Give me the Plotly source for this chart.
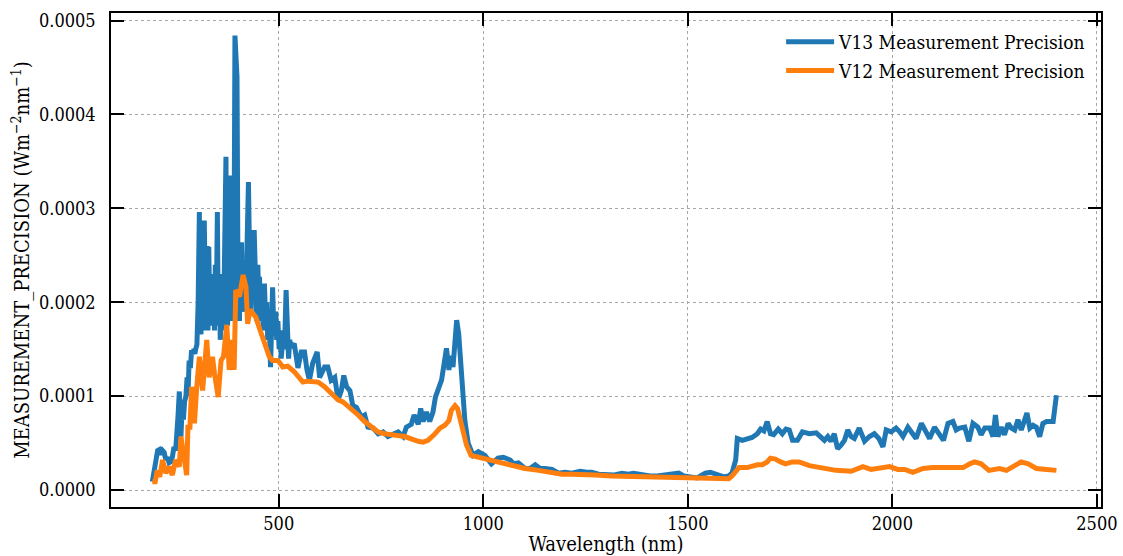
import plotly.graph_objects as go

# V13 Measurement Precision (blue)
v13_wl = [191, 195, 200, 204, 208, 212, 216, 220, 224, 228, 232, 236, 240, 244, 248, 251, 254, 257,
          259, 261, 264, 267, 270, 273, 276, 278, 281, 284, 287, 290, 293, 295,
          297, 300, 303, 306, 308, 310, 312, 315, 318, 320, 322, 325, 327, 329, 331, 333, 335, 337,
          339, 341, 343, 345, 347, 350, 352, 355, 357, 360, 363, 365, 368, 371, 373, 375, 378, 380,
          382, 384, 386, 388, 390, 393, 396, 398, 400, 402, 404, 406, 409, 411, 414, 416, 419, 422,
          426, 429, 432, 435, 438, 440, 443, 446, 449, 451, 453, 456, 459, 462, 465, 468, 471, 473,
          476, 480, 483, 485, 488, 490, 493, 495, 498, 501, 504, 506, 510, 514, 518, 521, 524, 527,
          530, 538, 547, 555, 563, 569, 575, 583,
          594, 600, 612, 620, 628, 637, 645, 653, 659, 666, 674, 681, 690, 702, 710, 718, 731, 743,
          755, 767, 780, 792, 804, 812, 824, 831, 841, 847, 853, 861, 869, 877, 883, 890, 898, 903,
          910, 916, 920, 926, 935, 940, 947, 955, 963, 975, 988, 1004, 1020, 1036, 1049, 1066, 1074,
          1086, 1102, 1114, 1127, 1139, 1151, 1168, 1184, 1200, 1216, 1237, 1253, 1265, 1282, 1298,
          1318, 1339, 1355, 1367, 1388, 1408, 1425, 1445, 1461, 1478, 1490, 1510, 1523, 1531, 1543,
          1555, 1567, 1576, 1588, 1600, 1608, 1617, 1621, 1633, 1645, 1657, 1670, 1678, 1686, 1694,
          1702, 1710, 1721, 1731, 1740, 1748, 1756, 1768, 1780, 1797, 1814, 1826, 1834, 1842, 1850,
          1858, 1866, 1875, 1883, 1891, 1899, 1907, 1919, 1932, 1944, 1956, 1967, 1977, 1985, 1997,
          2009, 2018, 2026, 2038, 2046, 2058, 2071, 2083, 2091, 2103, 2115, 2125, 2136, 2148, 2156,
          2164, 2177, 2187, 2197, 2209, 2217, 2226, 2238, 2246, 2252, 2258, 2266, 2274, 2283, 2291,
          2299, 2307, 2315, 2323, 2329, 2336, 2344, 2352, 2360, 2368, 2377, 2393, 2401]
v13_val = [0.09e-4, 0.20e-4, 0.30e-4, 0.42e-4, 0.43e-4, 0.38e-4, 0.42e-4, 0.40e-4, 0.32e-4, 0.35e-4,
           0.29e-4, 0.30e-4, 0.35e-4, 0.46e-4, 0.42e-4, 0.55e-4, 0.80e-4, 1.05e-4, 0.70e-4, 0.57e-4,
           0.90e-4, 0.75e-4, 0.95e-4, 0.99e-4, 1.20e-4, 1.00e-4, 1.38e-4, 1.30e-4, 1.49e-4, 1.45e-4,
           1.50e-4, 1.45e-4,
           1.50e-4, 1.55e-4, 2.00e-4, 2.96e-4, 1.70e-4, 1.66e-4, 2.30e-4, 1.80e-4, 2.87e-4, 2.20e-4,
           1.70e-4, 2.60e-4, 1.70e-4, 2.59e-4, 2.00e-4, 2.27e-4, 1.75e-4, 2.10e-4, 1.80e-4, 2.30e-4,
           1.70e-4, 2.40e-4, 1.75e-4, 2.96e-4, 1.90e-4, 2.30e-4, 1.60e-4, 2.00e-4, 2.20e-4, 1.70e-4,
           2.50e-4, 3.55e-4, 2.20e-4, 1.75e-4, 2.60e-4, 2.00e-4, 3.35e-4, 2.40e-4, 1.80e-4, 2.30e-4,
           1.80e-4, 4.84e-4, 4.60e-4, 4.40e-4, 2.63e-4, 2.20e-4, 1.80e-4, 2.40e-4, 2.64e-4, 2.00e-4,
           1.90e-4, 2.30e-4, 2.00e-4, 2.50e-4, 3.28e-4, 2.40e-4, 1.90e-4, 2.50e-4, 2.20e-4, 2.77e-4,
           2.20e-4, 1.80e-4, 2.40e-4, 2.00e-4, 2.27e-4, 1.80e-4, 2.10e-4, 1.70e-4, 2.20e-4, 1.80e-4,
           2.00e-4, 1.60e-4, 1.90e-4, 1.31e-4, 1.80e-4, 2.16e-4, 1.70e-4, 1.65e-4, 1.90e-4, 1.60e-4,
           1.80e-4, 1.50e-4, 1.70e-4, 1.40e-4, 1.60e-4, 1.50e-4, 2.13e-4, 1.60e-4, 1.40e-4, 1.60e-4,
           1.52e-4, 1.56e-4, 1.30e-4, 1.47e-4, 1.47e-4, 1.28e-4, 1.17e-4, 1.35e-4,
           1.47e-4, 1.20e-4, 1.31e-4, 1.31e-4, 1.17e-4, 1.20e-4,
           0.96e-4, 1.06e-4, 1.22e-4, 1.10e-4, 1.06e-4, 0.90e-4, 0.88e-4, 0.78e-4, 0.80e-4, 0.67e-4,
           0.66e-4, 0.60e-4, 0.62e-4, 0.57e-4, 0.59e-4, 0.62e-4, 0.57e-4, 0.67e-4, 0.70e-4, 0.80e-4,
           0.70e-4, 0.87e-4, 0.73e-4, 0.83e-4, 0.73e-4, 0.83e-4, 0.99e-4, 1.06e-4, 1.17e-4, 1.31e-4,
           1.51e-4, 1.28e-4, 1.43e-4, 1.31e-4, 1.81e-4, 1.66e-4, 1.17e-4, 0.74e-4, 0.50e-4, 0.37e-4,
           0.41e-4, 0.37e-4, 0.28e-4, 0.34e-4, 0.35e-4, 0.32e-4, 0.28e-4, 0.29e-4, 0.23e-4, 0.23e-4,
           0.27e-4, 0.23e-4, 0.23e-4, 0.22e-4, 0.18e-4, 0.19e-4, 0.18e-4, 0.20e-4, 0.19e-4, 0.19e-4,
           0.17e-4, 0.16e-4, 0.16e-4, 0.18e-4, 0.17e-4, 0.18e-4, 0.16e-4, 0.15e-4, 0.15e-4, 0.16e-4,
           0.16e-4, 0.18e-4, 0.15e-4, 0.14e-4, 0.13e-4, 0.15e-4, 0.18e-4, 0.19e-4, 0.17e-4, 0.15e-4,
           0.14e-4, 0.15e-4, 0.18e-4, 0.32e-4, 0.55e-4, 0.53e-4, 0.54e-4, 0.56e-4, 0.60e-4, 0.65e-4,
           0.63e-4, 0.73e-4, 0.60e-4, 0.59e-4, 0.65e-4, 0.60e-4, 0.65e-4, 0.64e-4, 0.53e-4, 0.53e-4,
           0.62e-4, 0.60e-4, 0.61e-4, 0.55e-4, 0.53e-4, 0.57e-4, 0.52e-4, 0.60e-4, 0.44e-4, 0.48e-4,
           0.53e-4, 0.64e-4, 0.57e-4, 0.55e-4, 0.66e-4, 0.52e-4, 0.57e-4, 0.60e-4, 0.55e-4, 0.46e-4,
           0.64e-4, 0.62e-4, 0.66e-4, 0.62e-4, 0.57e-4, 0.67e-4, 0.62e-4, 0.55e-4, 0.71e-4, 0.62e-4,
           0.55e-4, 0.67e-4, 0.60e-4, 0.53e-4, 0.71e-4, 0.73e-4, 0.64e-4, 0.66e-4, 0.67e-4, 0.52e-4,
           0.71e-4, 0.67e-4, 0.59e-4, 0.66e-4, 0.66e-4, 0.57e-4, 0.80e-4, 0.57e-4, 0.67e-4, 0.59e-4,
           0.71e-4, 0.66e-4, 0.64e-4, 0.75e-4, 0.64e-4, 0.73e-4, 0.82e-4, 0.66e-4, 0.69e-4, 0.67e-4,
           0.57e-4, 0.71e-4, 0.73e-4, 0.73e-4, 1.01e-4]

# V12 Measurement Precision (orange)
v12_wl = [191, 198, 203, 209, 216, 224, 232, 240, 248, 257, 261, 269, 275, 278, 283, 287, 294, 299,
          306, 314, 324, 330, 338, 343, 352, 359, 365, 373, 379, 387, 391, 395, 404, 408, 413, 420,
          424, 430, 436, 444, 453, 461, 469, 477, 485, 498, 510, 522, 538, 559, 571, 596, 612, 628,
          645, 657, 669, 681, 694, 710, 727, 743, 759, 775, 792, 808, 824, 841, 853, 865, 882, 894,
          906, 916, 922, 931, 937, 947, 959, 970, 988, 1012, 1036, 1070, 1102, 1135, 1168, 1192,
          1216, 1241, 1274, 1314, 1363, 1404, 1445, 1486, 1519, 1543, 1576, 1600, 1608, 1617, 1625,
          1645, 1657, 1670, 1682, 1694, 1702, 1714, 1727, 1739, 1755, 1772, 1797, 1830, 1862, 1899,
          1928, 1948, 1969, 1993, 2013, 2030, 2050, 2075, 2099, 2140, 2173, 2189, 2201, 2217, 2236,
          2262, 2279, 2299, 2315, 2332, 2352, 2377, 2401]
v12_val = [0.09e-4, 0.09e-4, 0.21e-4, 0.14e-4, 0.32e-4, 0.18e-4, 0.25e-4, 0.16e-4, 0.32e-4, 0.25e-4,
           0.57e-4, 0.32e-4, 0.16e-4, 0.67e-4, 0.67e-4, 1.10e-4, 0.71e-4, 1.06e-4, 1.42e-4, 1.06e-4,
           1.60e-4, 1.20e-4, 1.42e-4, 1.24e-4, 0.99e-4, 1.38e-4, 1.42e-4, 1.76e-4, 1.28e-4, 1.60e-4,
           1.28e-4, 2.13e-4, 2.06e-4, 2.16e-4, 2.29e-4, 2.16e-4, 1.77e-4, 1.92e-4, 1.89e-4, 1.84e-4,
           1.72e-4, 1.63e-4, 1.54e-4, 1.42e-4, 1.38e-4, 1.38e-4, 1.31e-4, 1.32e-4, 1.26e-4, 1.15e-4,
           1.16e-4, 1.15e-4, 1.10e-4, 1.03e-4, 0.96e-4, 0.94e-4, 0.90e-4, 0.85e-4, 0.80e-4, 0.73e-4,
           0.67e-4, 0.62e-4, 0.60e-4, 0.585e-4, 0.58e-4, 0.57e-4, 0.54e-4, 0.52e-4, 0.51e-4, 0.53e-4,
           0.60e-4, 0.66e-4, 0.69e-4, 0.74e-4, 0.85e-4, 0.90e-4, 0.87e-4, 0.67e-4, 0.48e-4, 0.37e-4,
           0.35e-4, 0.32e-4, 0.30e-4, 0.26e-4, 0.23e-4, 0.21e-4, 0.19e-4, 0.17e-4, 0.17e-4, 0.17e-4,
           0.16e-4, 0.15e-4, 0.145e-4, 0.14e-4, 0.13e-4, 0.13e-4, 0.12e-4, 0.13e-4, 0.12e-4, 0.12e-4,
           0.15e-4, 0.20e-4, 0.24e-4, 0.24e-4, 0.26e-4, 0.27e-4, 0.27e-4, 0.30e-4, 0.34e-4, 0.33e-4,
           0.30e-4, 0.28e-4, 0.30e-4, 0.30e-4, 0.26e-4, 0.23e-4, 0.21e-4, 0.20e-4, 0.25e-4, 0.22e-4,
           0.23e-4, 0.25e-4, 0.22e-4, 0.22e-4, 0.19e-4, 0.23e-4, 0.24e-4, 0.24e-4, 0.24e-4, 0.28e-4,
           0.30e-4, 0.28e-4, 0.21e-4, 0.23e-4, 0.21e-4, 0.26e-4, 0.30e-4, 0.28e-4, 0.23e-4, 0.22e-4,
           0.21e-4]

x_ticks = [500, 1000, 1500, 2000, 2500]
y_ticks = [0.0, 0.0001, 0.0002, 0.0003, 0.0004, 0.0005]

FONT = "'DejaVu Serif Condensed', 'DejaVu Serif', serif"

fig = go.Figure()
fig.add_trace(go.Scatter(x=v13_wl, y=v13_val, mode="lines", name="V13 Measurement Precision",
                         legendgroup="a", line=dict(color="#1f77b4", width=5)))
fig.add_trace(go.Scatter(x=v12_wl, y=v12_val, mode="lines", name="V12 Measurement Precision",
                         legendgroup="b", line=dict(color="#ff7f0e", width=5)))

axis_common = dict(showline=True, linecolor="black", linewidth=1.5, mirror="allticks",
                   ticks="inside", ticklen=13, tickwidth=2, tickcolor="black",
                   showgrid=True, gridcolor="#a8a8a8", gridwidth=0.8, griddash="dot",
                   zeroline=False, automargin=False,
                   tickfont=dict(family=FONT, size=18, color="black"))

fig.update_xaxes(range=[90, 2510], tickvals=x_ticks, ticktext=[str(t) for t in x_ticks],
                 title=dict(text="Wavelength (nm)", font=dict(family=FONT, size=20, color="black"),
                            standoff=4),
                 **axis_common)
fig.update_yaxes(range=[-0.000018, 0.000508], tickvals=y_ticks,
                 ticktext=[f"{t:.4f}" for t in y_ticks], ticklabelstandoff=10,
                 title=dict(text="MEASUREMENT_PRECISION (Wm<sup>−2</sup>nm<sup>−1</sup>)",
                            font=dict(family=FONT, size=20, color="black"), standoff=4),
                 **axis_common)

fig.update_layout(width=1123, height=556, margin=dict(l=111, r=22, t=13, b=49),
                  plot_bgcolor="white", paper_bgcolor="white",
                  font=dict(family=FONT, size=19, color="black"),
                  showlegend=True,
                  legend=dict(x=0.99, y=0.98, xanchor="right", yanchor="top",
                              bgcolor="rgba(255,255,255,0)", borderwidth=0,
                              font=dict(family=FONT, size=19, color="black"),
                              tracegroupgap=1, itemwidth=48))

fig.write_html("out.html")
